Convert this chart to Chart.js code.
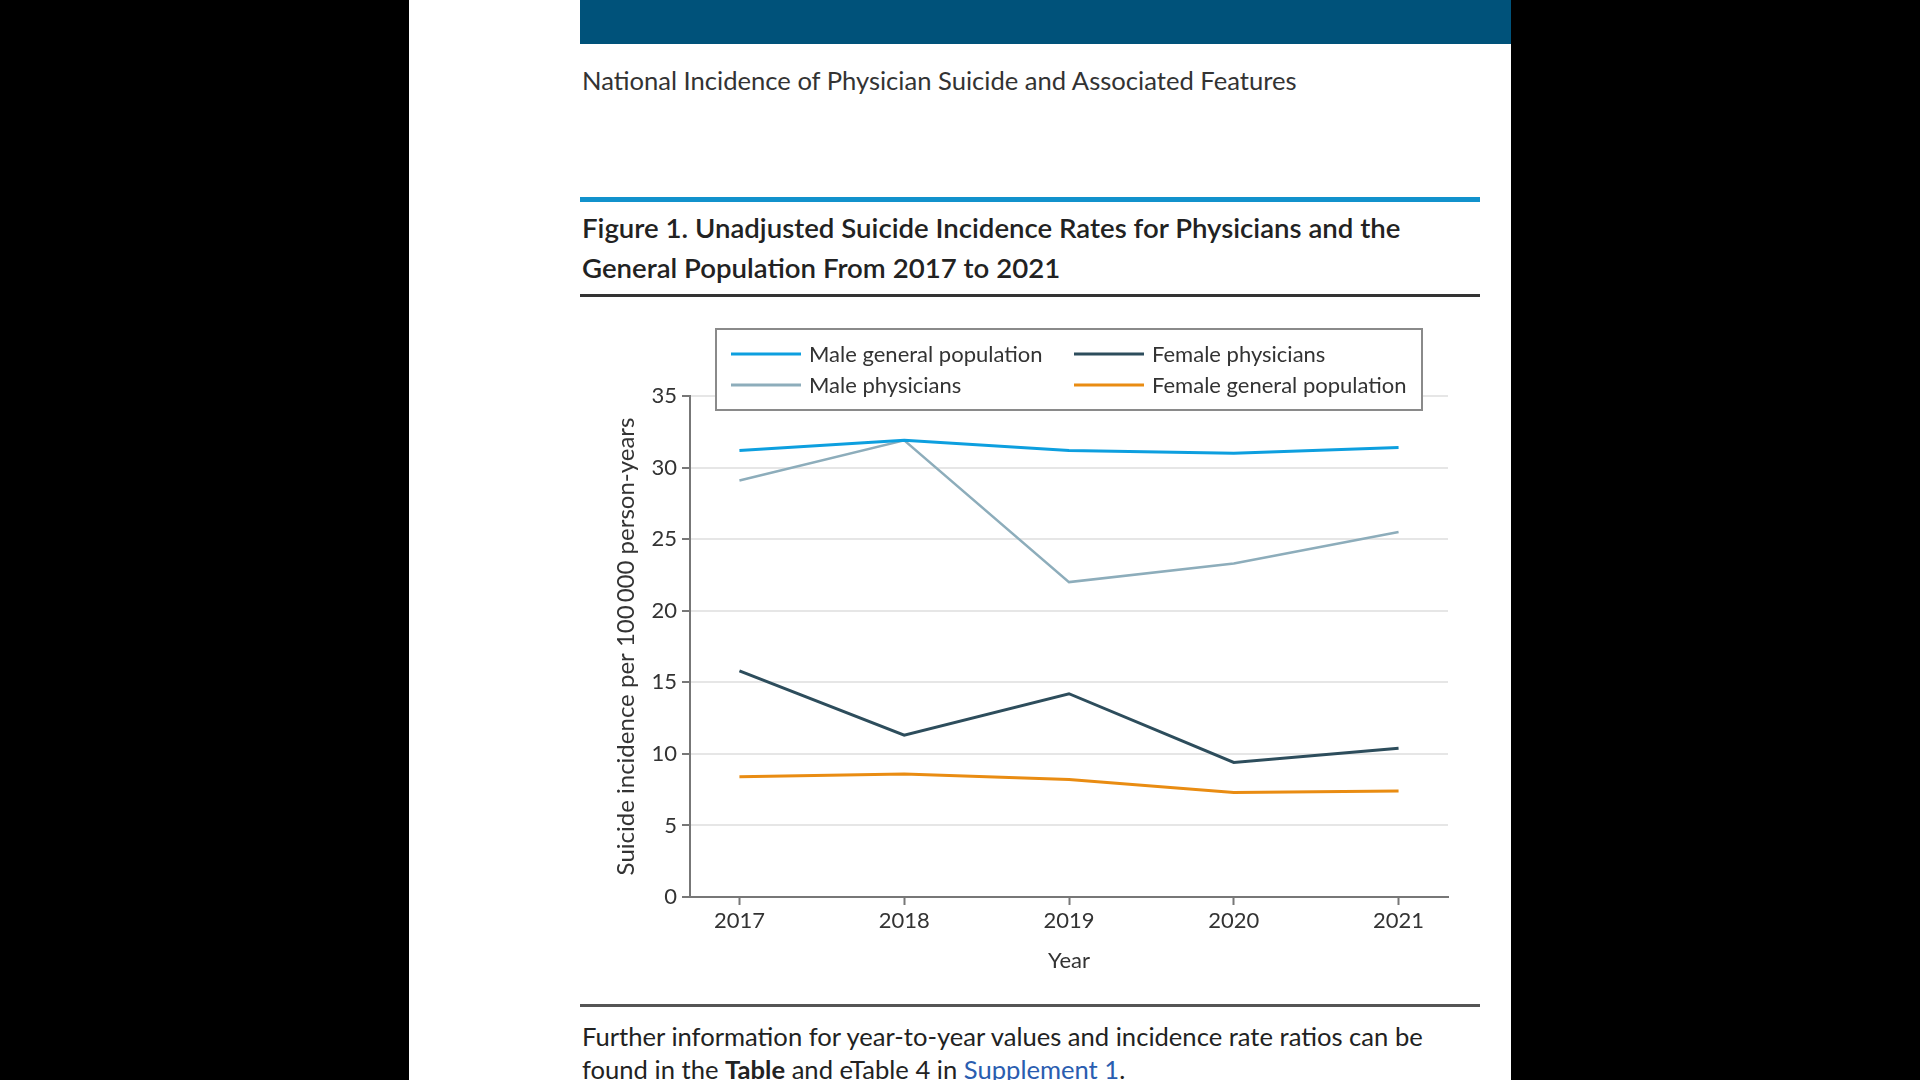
<!DOCTYPE html>
<html>
<head>
<meta charset="utf-8">
<script src="https://cdn.jsdelivr.net/npm/chart.js@4.4.1/dist/chart.umd.min.js"></script>
<style>
  html, body { margin: 0; padding: 0; background: #000; width: 1920px; height: 1080px; overflow: hidden; }
  body { position: relative; font-family: Lato, "Noto Sans", sans-serif; color: #222; }
  #panel { position: absolute; left: 409px; top: 0; width: 1102px; height: 1080px; background: #fff; }
  #bar { position: absolute; left: 580px; top: 0; width: 931px; height: 44px; background: #00527a; }
  .txt { position: absolute; left: 582px; white-space: nowrap; }
  #sub { top: 64px; font-size: 25.6px; line-height: 32px; color: #333; }
  #rule1 { position: absolute; left: 580px; top: 197px; width: 900px; height: 5px; background: #1192cc; }
  #title { top: 208px; font-size: 27.6px; line-height: 39.5px; font-weight: 600; color: #222; }
  #rule2 { position: absolute; left: 580px; top: 294px; width: 900px; height: 3px; background: #333; }
  #rule3 { position: absolute; left: 580px; top: 1004px; width: 900px; height: 3px; background: #555; }
  #foot { top: 1020px; font-size: 25.6px; line-height: 33px; color: #222; }
  #foot a { color: #2a5db0; text-decoration: none; }
  #wrap { position: absolute; left: 580px; top: 310px; width: 900px; height: 690px; }
</style>
</head>
<body>
<div id="panel"></div>
<div id="bar"></div>
<div class="txt" id="sub">National Incidence of Physician Suicide and Associated Features</div>
<div id="rule1"></div>
<div class="txt" id="title">Figure 1. Unadjusted Suicide Incidence Rates for Physicians and the<br>General Population From 2017 to 2021</div>
<div id="rule2"></div>
<div id="wrap"><canvas id="c" width="900" height="690"></canvas></div>
<div id="rule3"></div>
<div class="txt" id="foot">Further information for year-to-year values and incidence rate ratios can be<br>found in the <b>Table</b> and eTable 4 in <a>Supplement 1</a>.</div>
<script>
const years = [2017, 2018, 2019, 2020, 2021];
const maleGeneral = [31.2, 31.9, 31.2, 31.0, 31.4];
const malePhysicians = [29.1, 31.9, 22.0, 23.3, 25.5];
const femalePhysicians = [15.8, 11.3, 14.2, 9.4, 10.4];
const femaleGeneral = [8.4, 8.6, 8.2, 7.3, 7.4];
const yTicks = [0, 5, 10, 15, 20, 25, 30, 35];
const seriesLabels = ['Male general population', 'Male physicians', 'Female physicians', 'Female general population'];

const FONT = 'Lato, "Noto Sans", sans-serif';
const toPts = arr => years.map((y, i) => ({ x: y, y: arr[i] }));

const legendBox = {
  id: 'legendBox',
  afterDraw(chart, args, o) {
    const ctx = chart.ctx;
    ctx.save();
    ctx.fillStyle = '#fff';
    ctx.fillRect(o.x, o.y, o.w, o.h);
    ctx.strokeStyle = '#8a8a8a';
    ctx.lineWidth = 2;
    ctx.strokeRect(o.x, o.y, o.w, o.h);
    ctx.font = '22px ' + FONT;
    ctx.textBaseline = 'middle';
    ctx.textAlign = 'left';
    chart.data.datasets.forEach((ds, i) => {
      const col = Math.floor(i / 2), row = i % 2;
      const lx = o.cols[col], ly = o.rows[row];
      ctx.strokeStyle = ds.borderColor;
      ctx.lineWidth = 3;
      ctx.beginPath();
      ctx.moveTo(lx, ly);
      ctx.lineTo(lx + o.lineLen, ly);
      ctx.stroke();
      ctx.fillStyle = '#333';
      ctx.fillText(ds.label, lx + o.lineLen + 8, ly + 1);
    });
    ctx.restore();
  }
};

new Chart(document.getElementById('c'), {
  type: 'line',
  data: {
    datasets: [
      { label: seriesLabels[0], data: toPts(maleGeneral), borderColor: '#0d9fdf', borderWidth: 3 },
      { label: seriesLabels[1], data: toPts(malePhysicians), borderColor: '#8dadbb', borderWidth: 2.5 },
      { label: seriesLabels[2], data: toPts(femalePhysicians), borderColor: '#2d4d5c', borderWidth: 3 },
      { label: seriesLabels[3], data: toPts(femaleGeneral), borderColor: '#e98c12', borderWidth: 3 }
    ]
  },
  options: {
    responsive: false,
    animation: false,
    devicePixelRatio: 1,
    elements: { point: { radius: 0 }, line: { tension: 0, fill: false } },
    layout: { padding: { left: 0, right: 32, top: 86, bottom: 0 } },
    plugins: {
      legend: { display: false },
      tooltip: { enabled: false },
      legendBox: { x: 136, y: 19, w: 706, h: 81, cols: [151, 494], rows: [44, 75], lineLen: 70 }
    },
    scales: {
      x: {
        type: 'linear',
        min: 2016.7,
        max: 2021.3,
        afterBuildTicks: s => { s.ticks = years.map(v => ({ value: v })); },
        afterFit: s => { s.height = 103; },
        ticks: { callback: v => String(v), font: { family: FONT, size: 22 }, color: '#333', padding: 3, maxRotation: 0 },
        grid: { drawOnChartArea: false, drawTicks: true, tickLength: 8, tickColor: '#777', tickWidth: 2 },
        border: { display: true, color: '#777', width: 2 },
        title: { display: true, text: 'Year', font: { family: FONT, size: 22 }, color: '#333', padding: { top: 0, bottom: 26 } }
      },
      y: {
        min: 0,
        max: 35,
        afterBuildTicks: s => { s.ticks = yTicks.map(v => ({ value: v })); },
        afterFit: s => { s.width = 110; },
        ticks: { font: { family: FONT, size: 22 }, color: '#333', padding: 5 },
        grid: { color: '#e6e6e6', lineWidth: 2, tickLength: 8, tickColor: '#777', tickWidth: 2 },
        border: { display: true, color: '#777', width: 2 },
        title: { display: true, text: 'Suicide incidence per 100\u2009000 person-years', font: { family: FONT, size: 24 }, color: '#333', padding: { top: 32, bottom: 0 } }
      }
    }
  },
  plugins: [legendBox]
});
</script>
</body>
</html>
